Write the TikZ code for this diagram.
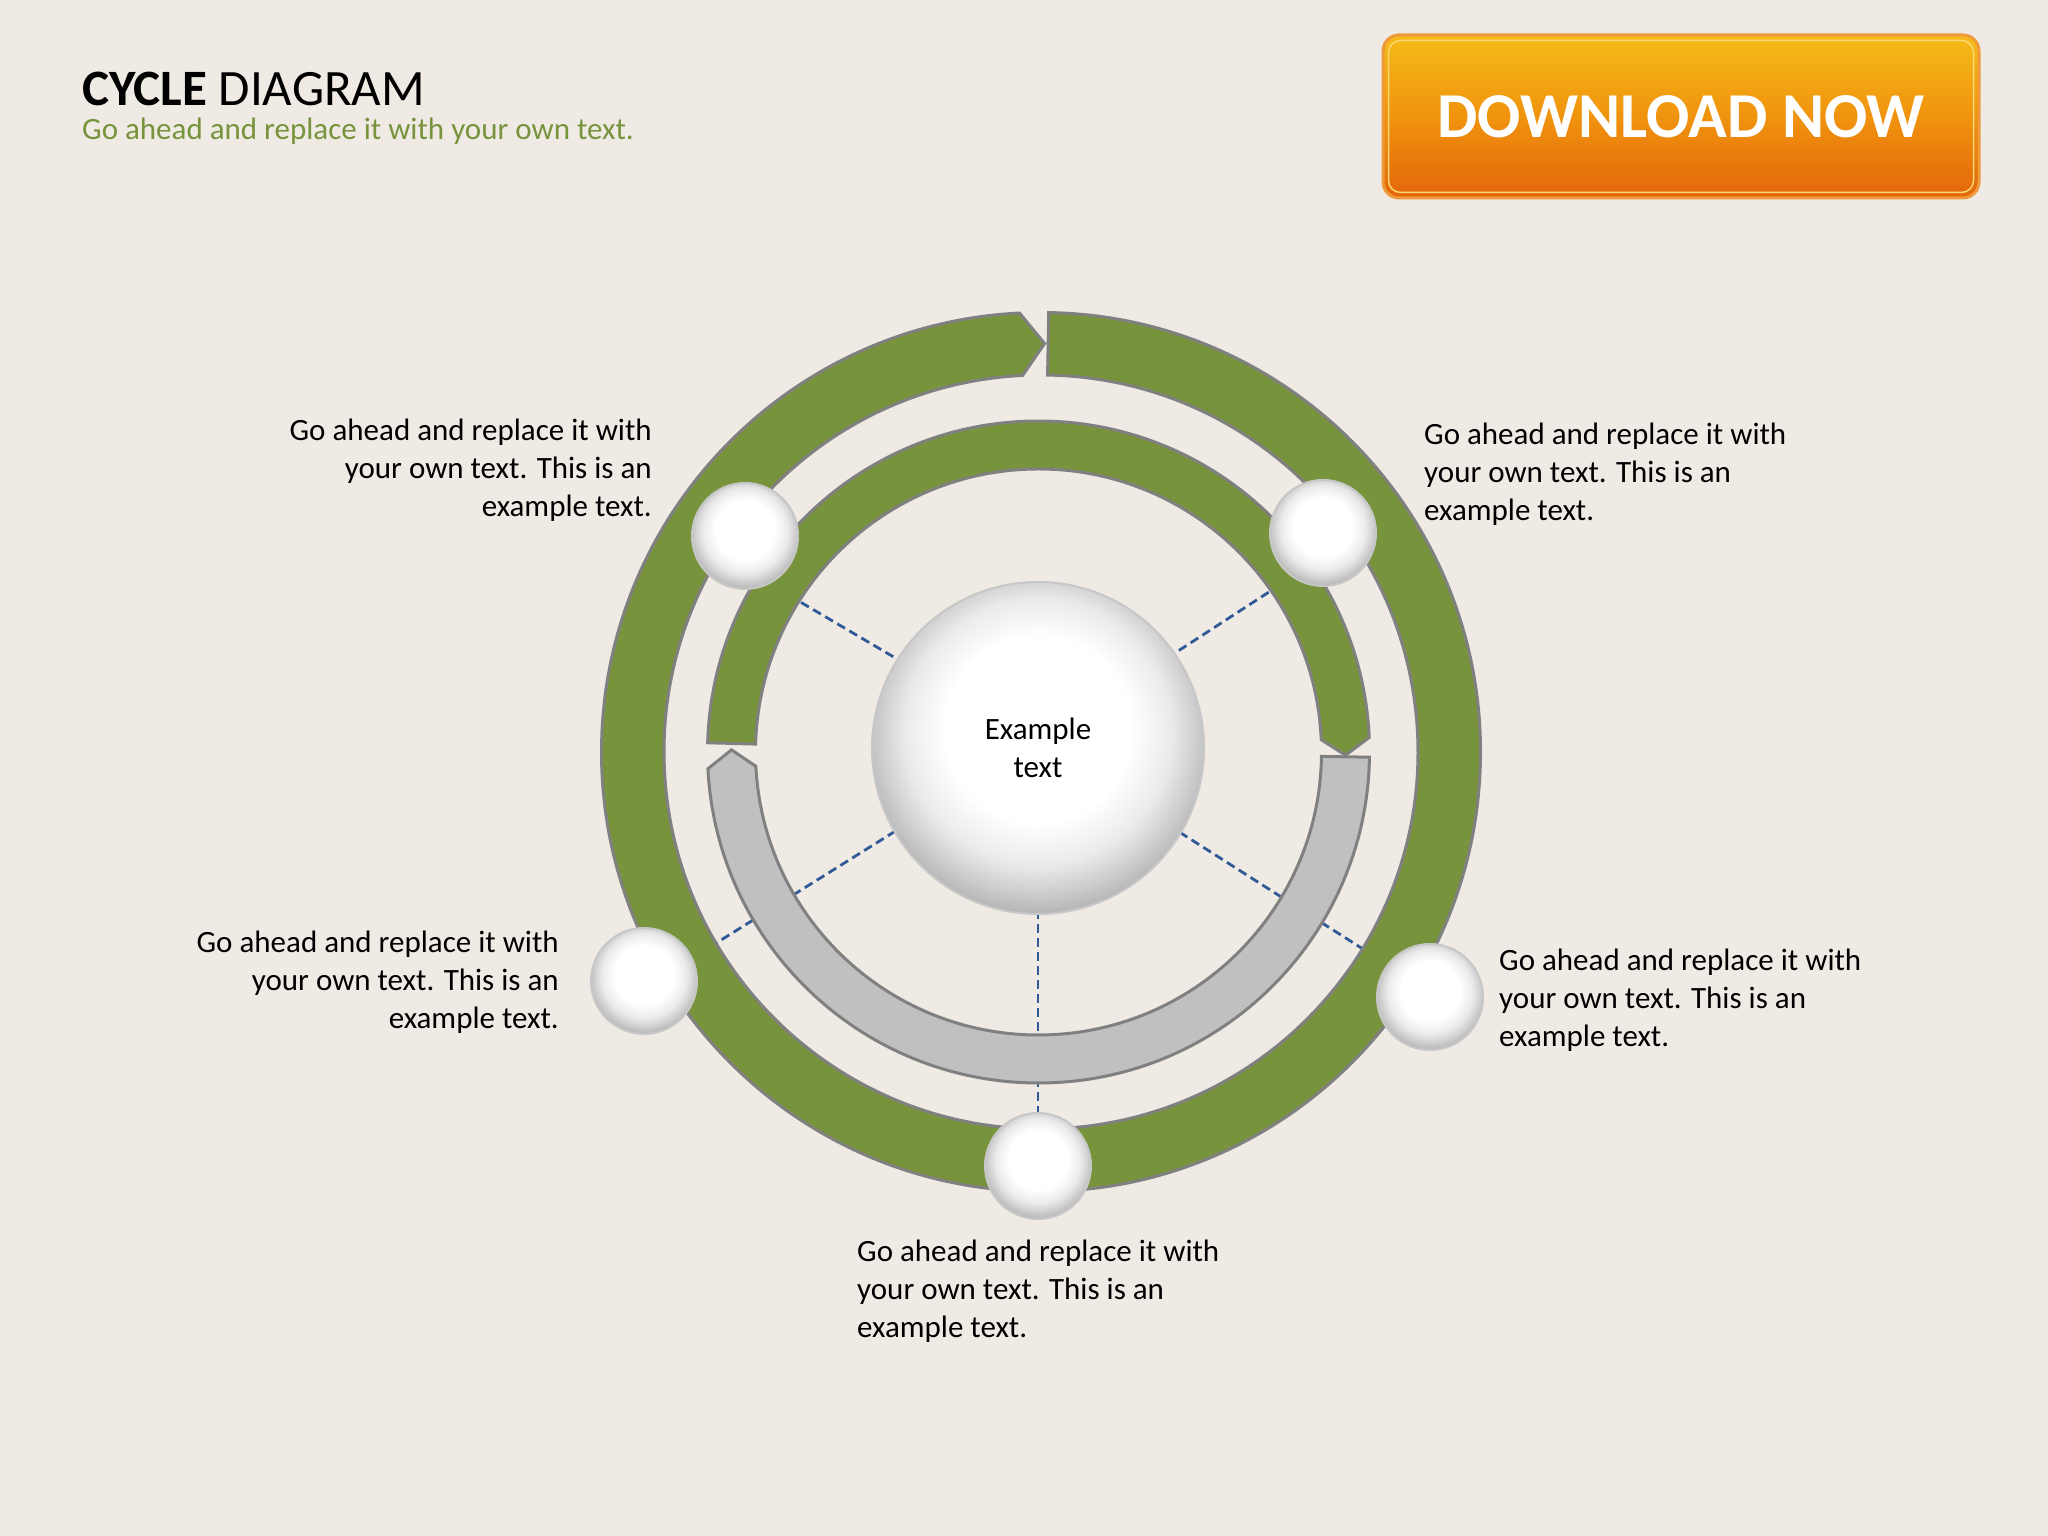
\documentclass[tikz,border=0pt]{standalone}
\usepackage{fontspec}
\setmainfont{Carlito}
\usetikzlibrary{calc}

\definecolor{paper}{HTML}{EFEBE4}
\definecolor{olive}{HTML}{77933C}
\definecolor{rim}{HTML}{808080}
\definecolor{trackgray}{HTML}{C0C0C0}
\definecolor{spokeblue}{HTML}{2F5A96}
\definecolor{btntop}{HTML}{F5BC18}
\definecolor{btnmid}{HTML}{F0930E}
\definecolor{btnbot}{HTML}{E3650A}
\definecolor{btnedge}{HTML}{EE9A3C}

\pgfdeclareradialshading{pearl}{\pgfpoint{0bp}{4bp}}{color(0bp)=(white); color(14bp)=(white); color(20bp)=(black!8); color(24bp)=(black!20); color(29bp)=(black!36); color(50bp)=(black!36)}

\tikzset{
  ring/.style={fill=olive, draw=rim, line width=3pt},
  trackarc/.style={fill=trackgray, draw=rim, line width=3pt},
  bead/.style={circle, shading=pearl, draw=black!22, line width=2pt, inner sep=0pt},
  spoke/.style={draw=spokeblue, line width=2.8pt, dash pattern=on 9pt off 5pt},
  note/.style={inner sep=0pt, font=\fontsize{31}{38}\selectfont},
  btn/.style={rounded corners=16pt, draw=btnedge, line width=3pt, top color=btntop, bottom color=btnbot, middle color=btnmid, minimum width=596pt, minimum height=163pt, text=white, font=\fontsize{64}{70}\selectfont\bfseries}
}

\begin{document}
\begin{tikzpicture}[x=1pt, y=1pt]
	\fill[paper] (0,0) rectangle (2048,1536);
	\useasboundingbox (0,0) rectangle (2048,1536);

	% heading
	\node[anchor=base west, inner sep=0pt, font=\fontsize{51}{60}\selectfont] (title) at (82,1430) {\textbf{CYCLE} DIAGRAM};
	\node[note, anchor=base west, text=olive] (subtitle) at (82,1396) {Go ahead and replace it with your own text.};

	\node[btn] (dl) at (1681,1419.5) {DOWNLOAD NOW};
	\draw[white!40!btntop, line width=1.5pt, rounded corners=12pt] ($(dl.south west)+(7,7)$) rectangle ($(dl.north east)-(7,7)$);

	% spokes, behind everything
	\coordinate (hub) at (1038,794);
	\coordinate (s1) at ($(hub)+(149.5:400)$);
	\coordinate (s2) at ($(hub)+(33:400)$);
	\coordinate (s3) at ($(hub)+(212:400)$);
	\coordinate (s4) at ($(hub)+(327.5:400)$);
	\coordinate (s5) at ($(hub)+(270:400)$);
	\draw[spoke] (hub) -- (s1);
	\draw[spoke] (hub) -- (s2);
	\draw[spoke] (hub) -- (s3);
	\draw[spoke] (hub) -- (s4);
	\draw[spoke] (hub) -- (s5);

	% rings
	\begin{scope}[shift={(1041,784)}]
		\draw[ring] (89:439.5) arc[start angle=89, end angle=-267.2, radius=439.5] -- (-270.5:408.5) -- (-267.2:377) arc[start angle=-267.2, end angle=89, radius=377] -- cycle;
	\end{scope}
	\begin{scope}[shift={(1038.5,784)}]
		\draw[ring] (178.4:331) arc[start angle=178.4, end angle=2.5, radius=331] -- (-0.6:307) -- (2.5:283) arc[start angle=2.5, end angle=178.4, radius=283] -- cycle;
		\draw[trackarc] (-0.9:331) arc[start angle=-0.9, end angle=-177.1, radius=331] -- (-180.4:307) -- (-177.1:283) arc[start angle=-177.1, end angle=-0.9, radius=283] -- cycle;
	\end{scope}

	% balls
	\node[bead, minimum size=332pt, align=center, font=\fontsize{31}{38}\selectfont] (core) at (1038,788) {Example\\text};
	\node[bead, minimum size=106pt] (b1) at (745,1000) {};
	\node[bead, minimum size=106pt] (b2) at (1323,1003) {};
	\node[bead, minimum size=106pt] (b3) at (644,555) {};
	\node[bead, minimum size=106pt] (b4) at (1430,539) {};
	\node[bead, minimum size=106pt] (b5) at (1038,370) {};

	% texts
	\node[note, anchor=east, align=right] (t1) at (652,1066) {Go ahead and replace it with\\your own text. This is an\\example text.};
	\node[note, anchor=west, align=left] (t2) at (1424,1062) {Go ahead and replace it with\\your own text. This is an\\example text.};
	\node[note, anchor=east, align=right] (t3) at (559,554) {Go ahead and replace it with\\your own text. This is an\\example text.};
	\node[note, anchor=west, align=left] (t4) at (1499,536) {Go ahead and replace it with\\your own text. This is an\\example text.};
	\node[note, anchor=west, align=left] (t5) at (857,245) {Go ahead and replace it with\\your own text. This is an\\example text.};
\end{tikzpicture}
\end{document}
